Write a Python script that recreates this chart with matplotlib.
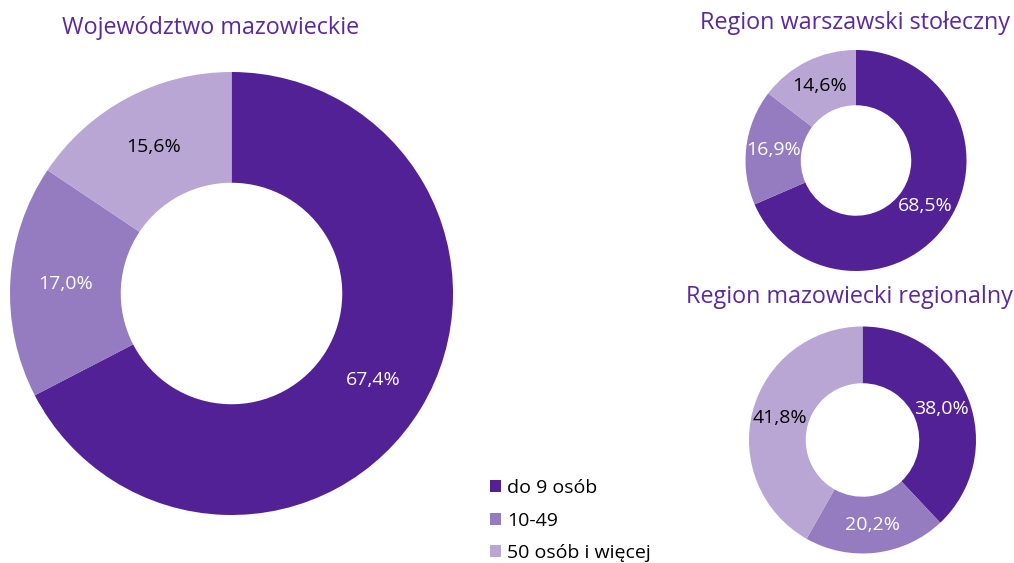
import matplotlib
matplotlib.use("Agg")
from matplotlib import pyplot as plt

plt.rcParams['font.family'] = ['Open Sans', 'DejaVu Sans']

# data
categories = ['do 9 osób', '10-49', '50 osób i więcej']
woj_maz = [67.4, 17.0, 15.6]
warszawski = [68.5, 16.9, 14.6]
mazowiecki = [38.0, 20.2, 41.8]

colors = ['#522195', '#957bbf', '#b9a6d5']
label_colors = ['white', 'white', 'black']
title_color = '#5a2a9c'

W, H = 1014, 563
fig = plt.figure(figsize=(W / 100, H / 100), dpi=100)


def donut(cx, cy, r, values, title, tx, ty, fs=14):
    # axes placed by pixel centre / radius
    ax = fig.add_axes([(cx - r) / W, (H - cy - r) / H, 2 * r / W, 2 * r / H])
    wedges, texts, autotexts = ax.pie(
        values, colors=colors, startangle=90, counterclock=False,
        wedgeprops=dict(width=0.5, linewidth=0),
        autopct=lambda p: '{0:.1f}%'.format(p).replace('.', ','),
        pctdistance=0.75, radius=1)
    for t, c in zip(autotexts, label_colors):
        t.set_color(c)
        t.set_fontsize(fs)
    ax.set_xlim(-1, 1)
    ax.set_ylim(-1, 1)
    ax.axis('off')
    fig.text(tx / W, 1 - ty / H, title, color=title_color, fontsize=16.8,
             ha='center', va='center')
    return wedges


wedges = donut(231.5, 293.5, 221.5, woj_maz, 'Województwo mazowieckie', 211, 28)
donut(856, 160.5, 110.5, warszawski, 'Region warszawski stołeczny', 855, 23)
donut(862.5, 440, 113.5, mazowiecki, 'Region mazowiecki regionalny', 849, 297)

# legend kept a bit tighter so the last row's descenders stay inside
fig.legend(wedges, categories, loc='upper left',
           bbox_to_anchor=(490 / W, 1 - 479 / H), frameon=False,
           fontsize=14, handlelength=0.57, handleheight=0.57,
           handletextpad=0.3, labelspacing=0.75, borderpad=0, borderaxespad=0)

fig.savefig('out.png', dpi=100)
